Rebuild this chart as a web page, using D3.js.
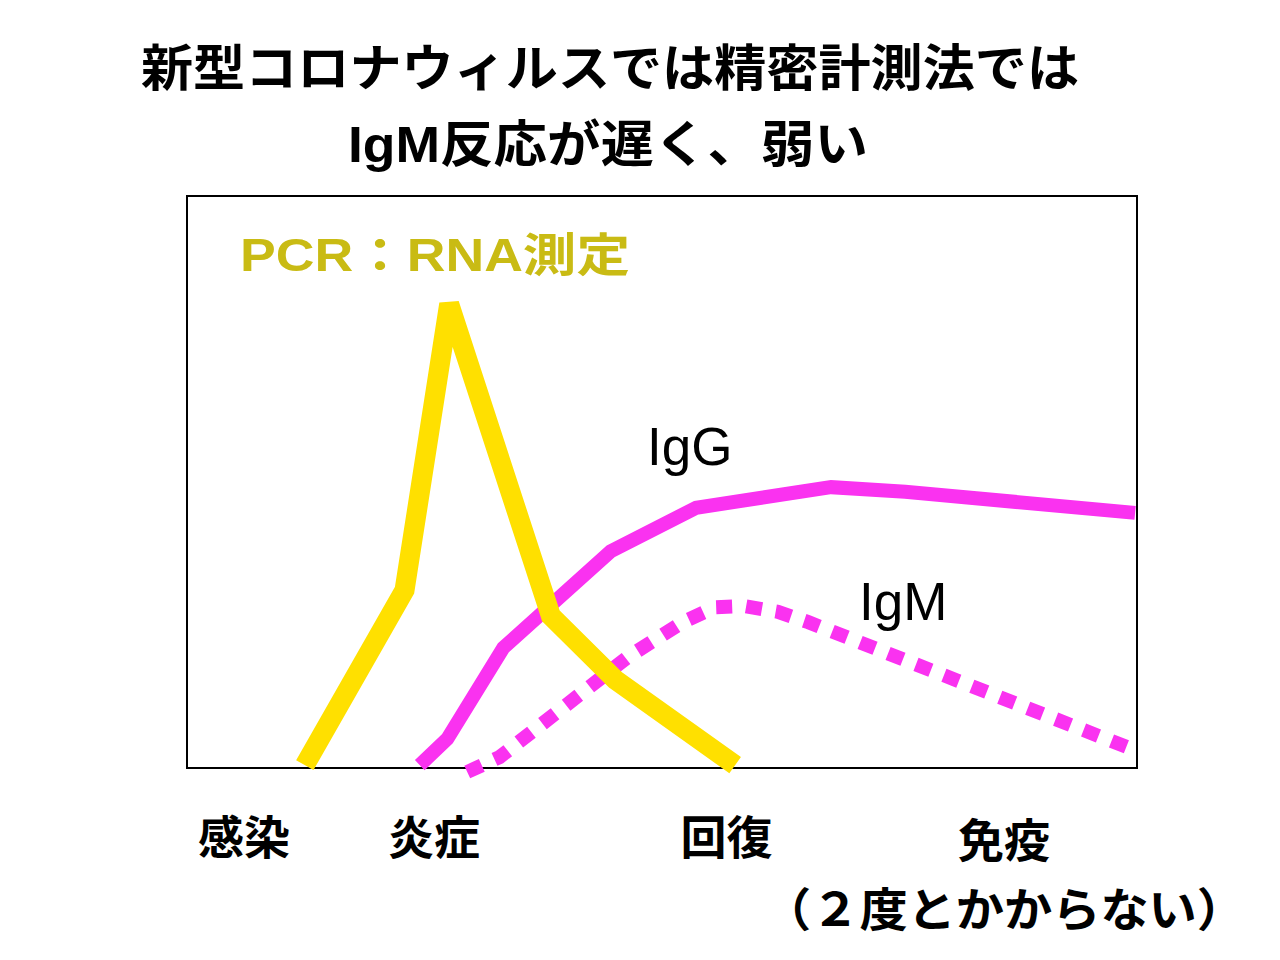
<!DOCTYPE html>
<html><head><meta charset="utf-8">
<script src="https://cdn.jsdelivr.net/npm/d3@7/dist/d3.min.js"></script>
<style>
html,body{margin:0;padding:0;background:#fff;}
svg{display:block;}
text{font-family:"Liberation Sans","Noto Sans CJK JP",sans-serif;font-weight:700;}
text.series{font-weight:400;}
</style></head>
<body>
<svg id="c" width="1280" height="960"></svg>
<script>
const titleLines = ["新型コロナウィルスでは精密計測法では", "IgM反応が遅く、弱い"];
const pcrLabel = "PCR：RNA測定";
const seriesLabels = ["IgG", "IgM"];
const phaseLabels = ["感染", "炎症", "回復", "免疫"];
const phaseTimes = [6.0, 26.0, 56.8, 86.0];
const phaseNote = "（２度とかからない）";

const pcrX = [12.4, 22.9, 27.6, 38.3, 45.1, 57.7];
const pcrY = [0.5, 31.1, 81.1, 26.6, 15.4, 0.5];
const iggX = [24.5, 27.4, 33.3, 44.6, 53.6, 67.8, 75.6, 99.8];
const iggY = [0.5, 5.1, 21.0, 37.9, 45.5, 49.1, 48.3, 44.6];
const igmX = [29.5, 32.9, 46.4, 52.2, 55.6, 58.7, 62.2, 65.4, 99.8];
const igmY = [-0.7, 1.9, 19.4, 25.5, 28.1, 28.3, 27.3, 25.5, 3.1];

const svg = d3.select("#c");
const L = 187, R = 1137, T = 196, B = 768;
const x = d3.scaleLinear().domain([0, 100]).range([L, R]);
const y = d3.scaleLinear().domain([0, 100]).range([B, T]);

svg.append("defs").append("clipPath").attr("id","clip")
  .append("rect").attr("x", L).attr("y", T).attr("width", R - L).attr("height", B - T + 12);

// title
svg.append("text").attr("x", 610).attr("y", 86).attr("text-anchor","middle")
  .attr("font-size", 50).attr("fill","#000").attr("textLength", 938).attr("lengthAdjust","spacingAndGlyphs").text(titleLines[0]);
svg.append("text").attr("x", 608).attr("y", 162).attr("text-anchor","middle")
  .attr("font-size", 50).attr("fill","#000").attr("textLength", 520).attr("lengthAdjust","spacingAndGlyphs").text(titleLines[1]);

// frame
svg.append("rect").attr("x", L).attr("y", T).attr("width", R - L).attr("height", B - T)
  .attr("fill","none").attr("stroke","#000").attr("stroke-width", 2);

const line = d3.line().x(d => x(d[0])).y(d => y(d[1]));
const zip = (a, b) => a.map((v, i) => [v, b[i]]);

const g = svg.append("g").attr("clip-path","url(#clip)");
g.append("path").attr("d", line(zip(igmX, igmY))).attr("fill","none")
  .attr("stroke","#fa32f0").attr("stroke-width", 14).attr("stroke-dasharray","16,14");
g.append("path").attr("d", line(zip(iggX, iggY))).attr("fill","none")
  .attr("stroke","#fa32f0").attr("stroke-width", 14);
g.append("path").attr("d", line(zip(pcrX, pcrY))).attr("fill","none")
  .attr("stroke","#ffe000").attr("stroke-width", 20);

// labels
svg.append("text").attr("x", 240).attr("y", 271).attr("font-size", 46).attr("fill","#c9bb14")
  .attr("textLength", 390).attr("lengthAdjust","spacingAndGlyphs").text(pcrLabel);
svg.append("text").attr("class","series").attr("x", 647).attr("y", 465).attr("font-size", 53).attr("fill","#000").text(seriesLabels[0]);
svg.append("text").attr("class","series").attr("x", 859).attr("y", 620).attr("font-size", 53).attr("fill","#000").text(seriesLabels[1]);

// phase labels
svg.selectAll("text.phase").data(phaseLabels).join("text").attr("class","phase")
  .attr("x", (d, i) => x(phaseTimes[i])).attr("y", (d, i) => i === 3 ? 857 : 854)
  .attr("text-anchor","middle").attr("font-size", 46).attr("fill","#000").text(d => d);
svg.append("text").attr("x", x(phaseTimes[3])).attr("y", 926).attr("text-anchor","middle")
  .attr("font-size", 46).attr("fill","#000").attr("textLength", 482).attr("lengthAdjust","spacingAndGlyphs").text(phaseNote);
</script>
</body></html>
